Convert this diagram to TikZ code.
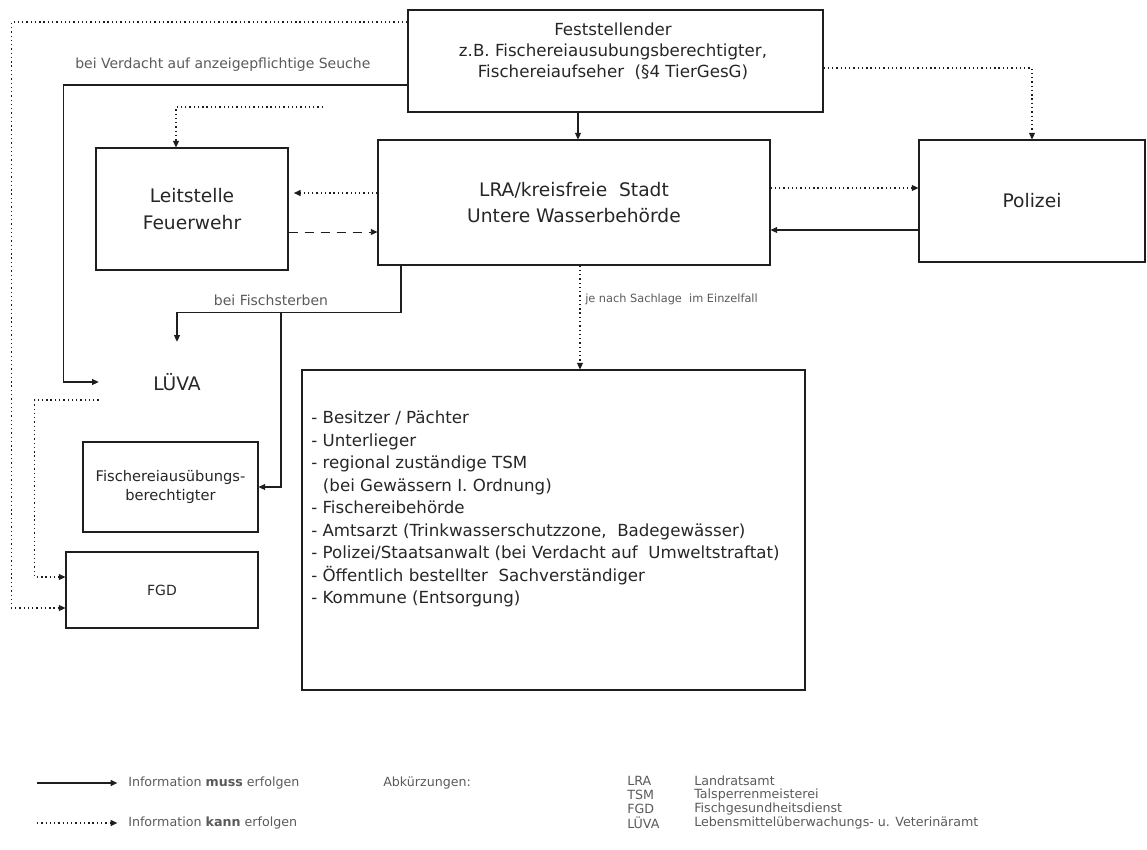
\documentclass[tikz,border=0pt]{standalone}
\usepackage{fontspec}
\setmainfont{DejaVu Sans}
\usetikzlibrary{arrows.meta,calc}
\definecolor{ink}{HTML}{1E1E1E}
\definecolor{txt}{HTML}{262626}
\definecolor{faint}{HTML}{5A5A5A}
\begin{document}
\begin{tikzpicture}[x=0.75pt,y=-0.75pt,
  box/.style={draw=ink,line width=0.8pt,inner sep=0pt,text=txt,align=center},
  tip/.style={-{Triangle[length=5pt,width=4.5pt]}},
  must/.style={draw=ink,line width=0.8pt,tip},
  can/.style={draw=ink,line width=0.8pt,dash pattern=on 1pt off 2.2pt,tip},
  dsh/.style={draw=ink,line width=0.7pt,dash pattern=on 7pt off 5pt,tip},
  bigf/.style={font=\fontsize{14}{20}\selectfont},
  lbl/.style={text=faint,inner sep=0pt,font=\fontsize{10.5}{12}\selectfont},
  leg/.style={text=faint,inner sep=0pt,font=\fontsize{9.5}{11}\selectfont}]
\useasboundingbox (0,0) rectangle (1147,850);

% boxes
\node[box,minimum width=311.25pt,minimum height=76.5pt] (fest) at (615.5,61) {};
\node[text=txt,align=center,inner sep=0pt,font=\fontsize{12.5}{15.75}\selectfont] (festtxt) at (613,51)
  {Feststellender\\z.B. Fischereiausubungsberechtigter,\\Fischereiaufseher~~(§4 TierGesG)};
\node[box,bigf,minimum width=144pt,minimum height=91.5pt] (leit) at (192,209) {Leitstelle\\Feuerwehr};
\node[box,bigf,minimum width=294pt,minimum height=93.75pt] (lra) at (574,202.5) {LRA/kreisfreie~~Stadt\\Untere Wasserbehörde};
\node[box,bigf,minimum width=169.5pt,minimum height=91.5pt] (pol) at (1032,201) {Polizei};
\node[box,minimum width=377.25pt,minimum height=240pt] (list) at (553.5,530) {};
\node[text=txt,align=left,anchor=west,inner sep=0pt,font=\fontsize{12.5}{16.9}\selectfont] (listtxt) at (311,509)
  {- Besitzer~/ Pächter\\
   - Unterlieger\\
   - regional~zuständige TSM\\
   \hspace{0.7em}(bei Gewässern~I. Ordnung)\\
   - Fischereibehörde\\
   - Amtsarzt (Trinkwasserschutzzone,~~Badegewässer)\\
   - Polizei/Staatsanwalt (bei Verdacht auf~~Umweltstraftat)\\
   - Öffentlich bestellter~~Sachverständiger\\
   - Kommune (Entsorgung)};
\node[bigf,text=txt,inner sep=0pt,minimum width=117pt,minimum height=60pt] (luva) at (177,382) {LÜVA};
\node[box,font=\fontsize{11}{14.5}\selectfont,minimum width=131.25pt,minimum height=67.5pt] (fau) at (170.5,487) {Fischereiausübungs-\\berechtigter};
\node[box,font=\fontsize{10.5}{12}\selectfont,minimum width=144pt,minimum height=57pt] (fgd) at (162,590) {FGD};

% labels
\node[lbl,anchor=west] (lab1) at (75,65) {bei Verdacht auf anzeigepflichtige Seuche};
\node[lbl] (lab2) at (271,300) {bei Fischsterben};
\node[lbl,anchor=west,font=\fontsize{8.5}{10}\selectfont] (lab3) at (585,299) {je nach Sachlage~~im Einzelfall};

% connectors
\draw[must] ([yshift=-18pt]fest.west) -| ([xshift=-26.25pt]luva.west) -- (luva.west);
\draw[can] ([yshift=29.25pt]fest.west) -| ([xshift=-40.5pt,yshift=-13.5pt]fgd.west) -- ([yshift=-13.5pt]fgd.west);
\coordinate (c3) at (323,107);
\draw[can] (c3) -| ([xshift=-12pt]leit.north);
\coordinate (f4) at ([xshift=-28.125pt]fest.south);
\draw[must] (f4) -- (f4 |- lra.north);
\draw[can] ([yshift=-5.25pt]fest.east) -| (pol.north);
\coordinate (a6) at ([yshift=7.125pt]lra.west);
\draw[can] (a6) -- ([xshift=4pt]a6 -| leit.east);
\coordinate (a7) at ([yshift=-17.25pt]leit.east);
\draw[dsh] (a7) -- (a7 -| lra.west);
\coordinate (a8) at ([yshift=10.875pt]lra.east);
\draw[can] (a8) -- (a8 -| pol.west);
\coordinate (a9) at ([yshift=-21.75pt]pol.west);
\draw[must] (a9) -- (a9 -| lra.east);
\coordinate (a10) at ([xshift=-129.75pt]lra.south);
\draw[must] (a10) -- ++(0,47) -| (luva.north);
\coordinate (j11) at (281,312);
\draw[must] (j11) |- (fau.east);
\coordinate (a12) at ([xshift=4.5pt]lra.south);
\draw[can] (a12) -- (a12 |- list.north);
\draw[can] ([yshift=-13.5pt]luva.west) -- ++(-64,0) |- ([yshift=9.75pt]fgd.west);

% legend
\node[leg,anchor=west] (lg1) at (128,783) {Information \textbf{muss} erfolgen};
\node[leg,anchor=west] (lg2) at (128,823) {Information \textbf{kann} erfolgen};
\coordinate (lg1s) at (37,783);
\coordinate (lg2s) at (37,823);
\draw[must] (lg1s) -- ([xshift=-8pt]lg1.west);
\draw[can] (lg2s) -- ([xshift=-8pt]lg2.west);
\node[leg,anchor=west] (abk) at (383,783) {Abkürzungen:};
\node[leg,anchor=west] (k1) at (627,781) {LRA};
\node[leg,anchor=west] (k2) at (627,795) {TSM};
\node[leg,anchor=west] (k3) at (627,809) {FGD};
\node[leg,anchor=west] (k4) at (627,823) {LÜVA};
\node[leg,anchor=west] (d1) at (694,781) {Landratsamt};
\node[leg,anchor=west] (d2) at (694,795) {Talsperrenmeisterei};
\node[leg,anchor=west] (d3) at (694,809) {Fischgesundheitsdienst};
\node[leg,anchor=west] (d4) at (694,823) {Lebensmittelüberwachungs- u. Veterinäramt};
\end{tikzpicture}
\end{document}
